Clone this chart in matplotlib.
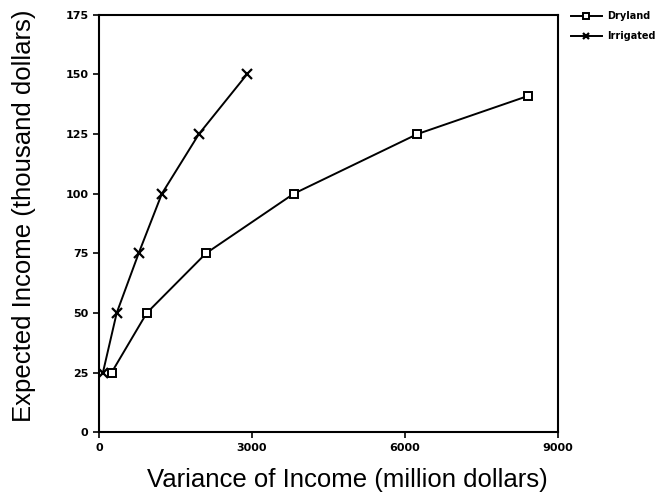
import matplotlib
matplotlib.use("Agg")
import matplotlib.pyplot as plt

dry_var = [250, 940, 2100, 3820, 6240, 8410]
dry_inc = [25, 50, 75, 100, 125, 141]
irr_var = [80, 350, 780, 1235, 1960, 2900]
irr_inc = [25, 50, 75, 100, 125, 150]
xticks = [0, 3000, 6000, 9000]
yticks = [0, 25, 50, 75, 100, 125, 150, 175]

plt.rcParams['font.family'] = ['Liberation Sans', 'DejaVu Sans']
fig = plt.figure(figsize=(6.59, 4.95), dpi=100)
ax = fig.add_axes([0.150, 0.127, 0.697, 0.843])

l1, = ax.plot(dry_var, dry_inc, color='black', lw=1.4, marker='s', ms=5.5,
              mfc='white', mec='black', mew=1.4, label='Dryland')
l2, = ax.plot(irr_var, irr_inc, color='black', lw=1.4, marker='x', ms=6.5,
              mew=1.6, label='Irrigated')

ax.set_xlim(0, 9000)
ax.set_ylim(0, 175)
ax.set_xticks(xticks)
ax.set_yticks(yticks)
ax.tick_params(direction='out', length=4, width=1.2, labelsize=8)
for lab in ax.get_xticklabels() + ax.get_yticklabels():
    lab.set_fontweight('bold')
    lab.set_family('DejaVu Sans')
for s in ax.spines.values():
    s.set_linewidth(1.5)

ax.set_xlabel('Variance of Income (million dollars)', fontsize=18.5)
ax.set_ylabel('Expected Income (thousand dollars)', fontsize=18.5)
ax.xaxis.set_label_coords(0.540, -0.085)
ax.yaxis.set_label_coords(-0.137, 0.518)

fig.legend(handles=[l1, l2], loc='upper left', bbox_to_anchor=(0.860, 0.985),
           frameon=False, prop={'weight': 'bold', 'size': 7, 'family': 'DejaVu Sans'},
           handlelength=3.2, handletextpad=0.6, labelspacing=1.0, borderaxespad=0,
           markerscale=0.75)

fig.savefig('out.png', dpi=100)
